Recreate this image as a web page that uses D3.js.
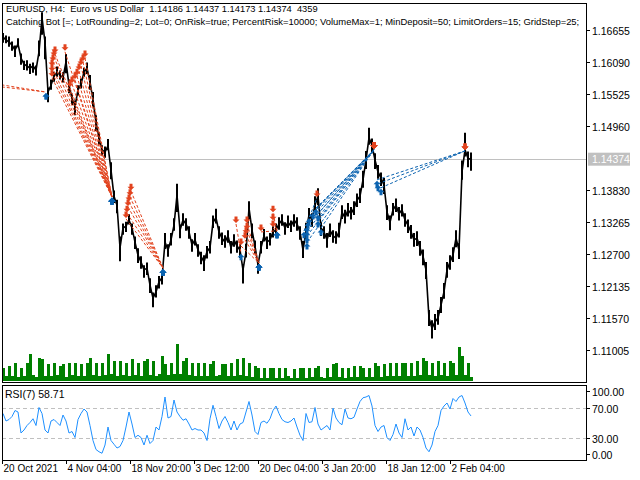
<!DOCTYPE html>
<html>
<head>
<meta charset="utf-8">
<script src="https://cdn.jsdelivr.net/npm/d3@7"></script>
<style>
  body { margin: 0; background: #fff; }
  svg { display: block; font-family: "Liberation Sans", Arial, sans-serif; }
  text { white-space: pre; }
</style>
</head>
<body>
<svg></svg>
<script>
var W = 640, H = 480

// ---- data ----
var headerLine1 = "EURUSD, H4:  Euro vs US Dollar  1.14186 1.14437 1.14173 1.14374  4359"
var headerLine2 = "Catching Bot [=; LotRounding=2; Lot=0; OnRisk=true; PercentRisk=10000; VolumeMax=1; MinDeposit=50; LimitOrders=15; GridStep=25;"

var dateLabels = ["20 Oct 2021", "4 Nov 04:00", "18 Nov 20:00", "3 Dec 12:00", "20 Dec 04:00", "3 Jan 20:00", "18 Jan 12:00", "2 Feb 04:00"]
var dateBars = [0, 64, 128, 192, 256, 320, 384, 448]

var priceTicks = [1.16655, 1.16090, 1.15525, 1.14960, 1.13830, 1.13265, 1.12700, 1.12135, 1.11570, 1.11005]
var lastPrice = 1.14374
var rsiTicks = [100, 70, 30, 0]
var rsiLevels = [70, 30]

// one point every 3 H4 bars
var closes = [
  1.1653, 1.1648, 1.1644, 1.1639, 1.1630, 1.1641, 1.1616, 1.1605, 1.1602, 1.1598,
  1.1602, 1.1595, 1.1627, 1.1687, 1.1644, 1.1556, 1.1568, 1.1584, 1.1591, 1.1586,
  1.1581, 1.1609, 1.1568, 1.1545, 1.1531, 1.1560, 1.1570, 1.1591, 1.1598, 1.1574,
  1.1542, 1.1503, 1.1475, 1.1454, 1.1450, 1.1461, 1.1418, 1.1372, 1.1356, 1.1281,
  1.1316, 1.1319, 1.1330, 1.1316, 1.1291, 1.1268, 1.1256, 1.1242, 1.1245, 1.1215,
  1.1192, 1.1203, 1.1221, 1.1228, 1.1291, 1.1277, 1.1295, 1.1321, 1.1374, 1.1312,
  1.1330, 1.1323, 1.1309, 1.1286, 1.1295, 1.1277, 1.1266, 1.1256, 1.1274, 1.1281,
  1.1326, 1.1334, 1.1309, 1.1298, 1.1291, 1.1302, 1.1281, 1.1295, 1.1284, 1.1277,
  1.1242, 1.1274, 1.1351, 1.1312, 1.1284, 1.1251, 1.1281, 1.1302, 1.1291, 1.1295,
  1.1309, 1.1312, 1.1323, 1.1330, 1.1316, 1.1326, 1.1319, 1.1330, 1.1323, 1.1309,
  1.1277, 1.1309, 1.1339, 1.1330, 1.1356, 1.1372, 1.1316, 1.1309, 1.1295, 1.1312,
  1.1302, 1.1298, 1.1309, 1.1344, 1.1334, 1.1348, 1.1341, 1.1351, 1.1365, 1.1372,
  1.1401, 1.1436, 1.1475, 1.1462, 1.1436, 1.1415, 1.1404, 1.1392, 1.1344, 1.1326,
  1.1348, 1.1356, 1.1341, 1.1348, 1.1330, 1.1321, 1.1309, 1.1295, 1.1298, 1.1281,
  1.1266, 1.1242, 1.1157, 1.1139, 1.1150, 1.1157, 1.1180, 1.1203, 1.1242, 1.1256,
  1.1268, 1.1298, 1.1277, 1.1415, 1.1454, 1.1439, 1.1437
]

// how far each 3-bar block reached above / below its close, in pips
var upPips = [
  7, 8, 10, 6, 8, 10, 8, 6, 10, 8,
  6, 8, 20, 10, 10, 8, 10, 8, 10, 8,
  10, 14, 10, 8, 10, 8, 10, 8, 10, 12,
  14, 12, 10, 8, 10, 12, 14, 10, 10, 20,
  8, 8, 10, 8, 10, 12, 10, 8, 10, 12,
  10, 12, 10, 8, 16, 10, 12, 12, 20, 10,
  12, 10, 10, 10, 12, 10, 8, 12, 10, 12,
  12, 16, 10, 10, 12, 10, 12, 10, 10, 10,
  10, 14, 12, 12, 10, 10, 12, 12, 10, 12,
  10, 12, 12, 10, 10, 12, 10, 10, 12, 10,
  16, 16, 12, 12, 16, 14, 10, 10, 12, 12,
  10, 12, 16, 12, 14, 12, 12, 12, 12, 14,
  16, 16, 18, 12, 12, 12, 10, 12, 12, 12,
  12, 12, 12, 10, 12, 10, 12, 12, 12, 12,
  12, 14, 14, 14, 14, 14, 14, 16, 14, 12,
  14, 14, 12, 20, 30, 12, 12
]
var downPips = [
  10, 6, 8, 10, 12, 6, 12, 10, 8, 10,
  12, 10, 8, 30, 30, 18, 8, 10, 8, 8,
  8, 20, 14, 12, 16, 10, 8, 8, 10, 14,
  12, 16, 12, 10, 10, 8, 16, 12, 14, 24,
  12, 10, 8, 12, 12, 14, 12, 14, 12, 14,
  16, 10, 12, 12, 12, 12, 10, 10, 30, 14,
  10, 12, 12, 12, 10, 12, 14, 16, 12, 10,
  10, 10, 12, 12, 10, 12, 10, 12, 12, 14,
  24, 10, 20, 14, 14, 16, 10, 10, 12, 10,
  10, 10, 10, 10, 12, 10, 10, 12, 12, 14,
  14, 12, 12, 12, 10, 16, 14, 12, 14, 12,
  12, 10, 10, 12, 10, 12, 10, 12, 12, 12,
  14, 16, 12, 14, 16, 12, 14, 16, 14, 14,
  10, 12, 12, 12, 12, 14, 12, 12, 14, 14,
  16, 16, 14, 18, 14, 12, 14, 12, 14, 14,
  12, 16, 16, 14, 12, 16, 20
]

var rsi = [
  62, 52, 54, 58, 66, 64, 36, 40, 46, 50,
  55, 46, 70, 62, 40, 36, 52, 54, 50, 46,
  60, 52, 36, 38, 30, 54, 62, 68, 64, 46,
  26, 14, 11, 9, 20, 44, 26, 21, 16, 18,
  26, 44, 64, 48, 30, 33, 30, 20, 33, 22,
  26, 44, 40, 58, 84, 56, 58, 80, 64, 58,
  53, 55, 48, 40, 42, 40, 40, 36, 26, 55,
  73, 58, 42, 52, 58, 50, 40, 52, 40, 48,
  50, 64, 78, 60, 38, 34, 50, 52, 49, 55,
  66, 72, 62, 54, 51, 50, 52, 56, 44, 33,
  26, 62, 50, 51, 70, 48, 40, 43, 46, 40,
  69, 56, 50, 47, 68, 56, 55, 57, 68, 78,
  83, 84, 86, 72, 46, 38, 44, 46, 30, 26,
  34, 48, 36, 30, 55, 40, 44, 32, 44, 40,
  30, 16, 11, 20, 38, 46, 66, 72, 76, 68,
  82, 78, 84, 86, 76, 64, 58.71
]

var volume = [
  1300, 500, 1500, 500, 1800, 400, 1300, 500, 1800, 2700,
  600, 400, 2300, 2200, 500, 1700, 500, 1800, 600, 1500,
  1700, 400, 1800, 600, 1800, 500, 1700, 500, 1800, 2300,
  600, 1800, 500, 1800, 600, 2700, 700, 2000, 500, 2000,
  600, 1800, 500, 2200, 600, 1800, 500, 2000, 2200, 600,
  2000, 500, 700, 2500, 1700, 600, 1800, 700, 3700, 700,
  2000, 2300, 600, 1800, 500, 1800, 500, 1800, 500, 1700,
  2000, 500, 600, 1700, 1700, 500, 1800, 500, 2200, 600,
  2300, 500, 1800, 400, 1500, 1300, 300, 1300, 300, 1300,
  1300, 300, 1300, 300, 1300, 500, 300, 1200, 300, 1300,
  1300, 300, 1300, 400, 1300, 1500, 400, 300, 1300, 400,
  1700, 1800, 400, 1300, 300, 1300, 400, 1500, 400, 1500,
  1300, 400, 1300, 400, 1800, 1500, 400, 1700, 500, 1800,
  500, 1800, 500, 1800, 1800, 500, 1800, 500, 2000, 600,
  2300, 2000, 600, 1800, 500, 2000, 600, 1800, 500, 2000,
  1800, 600, 3400, 2500, 600, 1800, 400
]

// grid trades: open / close bar index and price
var tradeType = [
  "sell", "sell",
  "sell", "sell", "sell", "sell", "sell", "sell", "sell", "sell", "sell", "sell", "sell", "sell", "sell", "sell", "sell",
  "sell", "sell", "sell", "sell", "sell", "sell",
  "sell", "sell", "sell", "sell", "sell", "sell", "sell", "sell", "sell", "sell",
  "buy", "buy", "buy", "buy", "buy", "buy", "buy", "buy", "buy", "buy", "buy", "buy",
  "buy", "buy", "buy"
]
var openBar = [
  -40, -25,
  50, 50, 50, 51, 52, 53, 63, 68, 70, 73, 75, 77, 79, 81, 83,
  129, 128, 127, 126, 125, 124,
  234, 239, 245, 245, 244, 243, 259, 271, 271, 271,
  305, 305, 305, 305, 306, 307, 311, 314, 316, 316, 319, 302,
  375, 376, 379
]
var openPrice = [
  1.1580, 1.1570,
  1.1581, 1.1591, 1.1600, 1.1609, 1.1618, 1.1623, 1.1627, 1.1563, 1.1570, 1.1577, 1.1584, 1.1593, 1.1602, 1.1609, 1.1616,
  1.1381, 1.1371, 1.1362, 1.1353, 1.1342, 1.1332,
  1.1323, 1.1284, 1.1323, 1.1312, 1.1304, 1.1295, 1.1309, 1.1342, 1.1328, 1.1316,
  1.1291, 1.1302, 1.1311, 1.1319, 1.1328, 1.1335, 1.1344, 1.1351, 1.1341, 1.1330, 1.1316, 1.1311,
  1.1401, 1.1394, 1.1387
]
var closeBar = [
  44, 44,
  110, 110, 110, 110, 110, 110, 110, 110, 110, 110, 110, 110, 110, 110, 110,
  161, 161, 161, 161, 161, 161,
  239, 257, 257, 257, 257, 257, 275, 275, 275, 275,
  372, 372, 372, 372, 372, 372, 372, 372, 372, 372, 372, 315,
  463, 463, 463
]
var closePrice = [
  1.1556, 1.1556,
  1.1371, 1.1371, 1.1371, 1.1371, 1.1371, 1.1371, 1.1371, 1.1371, 1.1371, 1.1371, 1.1371, 1.1371, 1.1371, 1.1371, 1.1371,
  1.1245, 1.1245, 1.1245, 1.1245, 1.1245, 1.1245,
  1.1272, 1.1254, 1.1254, 1.1254, 1.1254, 1.1254, 1.1311, 1.1311, 1.1311, 1.1311,
  1.1454, 1.1454, 1.1454, 1.1454, 1.1454, 1.1454, 1.1454, 1.1454, 1.1454, 1.1454, 1.1454, 1.1369,
  1.1452, 1.1452, 1.1452
]

// ---- layout ----
var sellColor = "#e2431e"
var buyColor = "#0b63b0"
var gridGrey = "#c0c0c0"
var step = 3   // bars per stored point
var pip = 0.0001

var main = {left: 2, right: 586, top: 3, bottom: 382}
var sub = {top: 385, bottom: 460}

var svg = d3.select("svg").attr("width", W).attr("height", H)
svg.append("rect").attr("width", W).attr("height", H).attr("fill", "#fff")

var x = d3.scaleLinear().domain([0, 469]).range([2, 471])
var y = d3.scaleLinear().domain([1.16655, 1.11005]).range([30, 350])
var yVol = d3.scaleLinear().domain([0, 4000]).range([main.bottom - 1, main.bottom - 41])
var yRsi = d3.scaleLinear().domain([0, 100]).range([sub.bottom, sub.top])

function barOf(k){ return 1 + k * step }

svg.append("clipPath").attr("id", "mainClip")
  .append("rect")
  .attr("x", main.left).attr("y", main.top)
  .attr("width", main.right - main.left).attr("height", main.bottom - main.top)

svg.append("clipPath").attr("id", "subClip")
  .append("rect")
  .attr("x", main.left).attr("y", sub.top)
  .attr("width", main.right - main.left).attr("height", sub.bottom - sub.top)

// header: shrink the font until each line fits its width in the picture
function fitText(str, tx, ty, width){
  var t = svg.append("text").attr("x", tx).attr("y", ty).attr("font-size", 11).text(str)
  var w = t.node().getComputedTextLength()
  if(w > width) t.attr("font-size", (11 * width / w).toFixed(2))
  return t
}
fitText(headerLine1, 6, 12, 312)
fitText(headerLine2, 6, 25, 574)

var g = svg.append("g").attr("clip-path", "url(#mainClip)")

// bid line
g.append("line")
  .attr("x1", main.left).attr("x2", main.right)
  .attr("y1", Math.round(y(lastPrice)) + 0.5).attr("y2", Math.round(y(lastPrice)) + 0.5)
  .attr("stroke", gridGrey)

// volumes
g.selectAll(".vol").data(volume).enter().append("rect")
  .attr("class", "vol")
  .attr("x", (d, k) => x(barOf(k)) - 1)
  .attr("width", step)
  .attr("y", d => yVol(d))
  .attr("height", d => main.bottom - 1 - yVol(d))
  .attr("fill", "#008000")

// price: block ranges plus the close line
g.selectAll(".rng").data(closes).enter().append("line")
  .attr("class", "rng")
  .attr("x1", (d, k) => x(barOf(k))).attr("x2", (d, k) => x(barOf(k)))
  .attr("y1", (d, k) => y(d + upPips[k] * pip))
  .attr("y2", (d, k) => y(d - downPips[k] * pip))
  .attr("stroke", "#000")
  .attr("stroke-width", 2)

var priceLine = d3.line().x((d, k) => x(barOf(k))).y(d => y(d))
g.append("path").datum(closes)
  .attr("d", priceLine)
  .attr("fill", "none")
  .attr("stroke", "#000")
  .attr("stroke-width", 1.6)

// trade lines
var trades = tradeType.map((t, i) => ({
  type: t, ob: openBar[i], op: openPrice[i], cb: closeBar[i], cp: closePrice[i]
}))

g.selectAll(".tline").data(trades).enter().append("line")
  .attr("class", "tline")
  .attr("x1", d => x(d.ob)).attr("y1", d => y(d.op))
  .attr("x2", d => x(d.cb)).attr("y2", d => y(d.cp))
  .attr("stroke", d => d.type == "sell" ? sellColor : buyColor)
  .attr("stroke-width", 1)
  .attr("stroke-dasharray", "3,2")

function arrow(px, py, up){
  // tip at the deal price; buy arrows hang below it, sell arrows sit above it
  if(up){
    var t = py + 1
    return "M" + px + "," + t + "l3.5,3.5h-2v3h-3v-3h-2z"
  }
  var b = py - 1
  return "M" + px + "," + b + "l3.5,-3.5h-2v-3h-3v3h-2z"
}

var deals = []
trades.forEach(function(d){
  deals.push({bar: d.ob, price: d.op, buy: d.type == "buy"})
  deals.push({bar: d.cb, price: d.cp, buy: d.type != "buy"})
})

g.selectAll(".deal").data(deals.filter(d => d.bar >= 0)).enter().append("path")
  .attr("class", "deal")
  .attr("d", d => arrow(x(d.bar), y(d.price), d.buy))
  .attr("fill", d => d.buy ? buyColor : sellColor)

// RSI panel
var s = svg.append("g").attr("clip-path", "url(#subClip)")
s.selectAll(".lvl").data(rsiLevels).enter().append("line")
  .attr("x1", main.left).attr("x2", main.right)
  .attr("y1", d => Math.round(yRsi(d)) + 0.5).attr("y2", d => Math.round(yRsi(d)) + 0.5)
  .attr("stroke", gridGrey)
  .attr("stroke-dasharray", "4,3")

var rsiLine = d3.line().x((d, k) => x(barOf(k))).y(d => yRsi(d))
s.append("path").datum(rsi)
  .attr("d", rsiLine)
  .attr("fill", "none")
  .attr("stroke", "#1e90ff")
  .attr("stroke-width", 1)

svg.append("text").attr("x", 5).attr("y", 398).attr("font-size", 10.5)
  .text("RSI(7) " + rsi[rsi.length - 1].toFixed(2))

// frames
svg.append("rect")
  .attr("x", main.left + 0.5).attr("y", main.top + 0.5)
  .attr("width", main.right - main.left).attr("height", main.bottom - main.top)
  .attr("fill", "none").attr("stroke", "#000")
svg.append("rect")
  .attr("x", main.left + 0.5).attr("y", sub.top + 0.5)
  .attr("width", main.right - main.left).attr("height", sub.bottom - sub.top)
  .attr("fill", "none").attr("stroke", "#000")

// price axis
var pa = svg.append("g")
priceTicks.forEach(function(p){
  var py = Math.round(y(p)) + 0.5
  pa.append("line").attr("x1", main.right).attr("x2", main.right + 4)
    .attr("y1", py).attr("y2", py).attr("stroke", "#000")
  pa.append("text").attr("x", main.right + 6).attr("y", py + 4)
    .attr("font-size", 10.5).text(p.toFixed(5))
})
var ly = y(lastPrice)
pa.append("rect").attr("x", main.right + 2).attr("y", ly - 6.5)
  .attr("width", 42).attr("height", 13).attr("fill", gridGrey)
pa.append("text").attr("x", main.right + 6).attr("y", ly + 4)
  .attr("font-size", 10.5).attr("fill", "#fff").text(lastPrice.toFixed(5))

// RSI axis
rsiTicks.forEach(function(v){
  var ry = Math.max(sub.top + 6, Math.min(sub.bottom - 6.5, yRsi(v)))
  ry = Math.round(ry) + 0.5
  pa.append("line").attr("x1", main.right).attr("x2", main.right + 4)
    .attr("y1", ry).attr("y2", ry).attr("stroke", "#000")
  pa.append("text").attr("x", main.right + 6).attr("y", ry + 4)
    .attr("font-size", 10.5).text(v.toFixed(2))
})

// time axis
dateBars.forEach(function(b, i){
  var tx = Math.round(x(b)) + 0.5
  pa.append("line").attr("x1", tx).attr("x2", tx)
    .attr("y1", sub.bottom).attr("y2", sub.bottom + 4).attr("stroke", "#000")
  pa.append("text").attr("x", tx + 1).attr("y", 472)
    .attr("font-size", 10).text(dateLabels[i])
})
</script>
</body>
</html>
